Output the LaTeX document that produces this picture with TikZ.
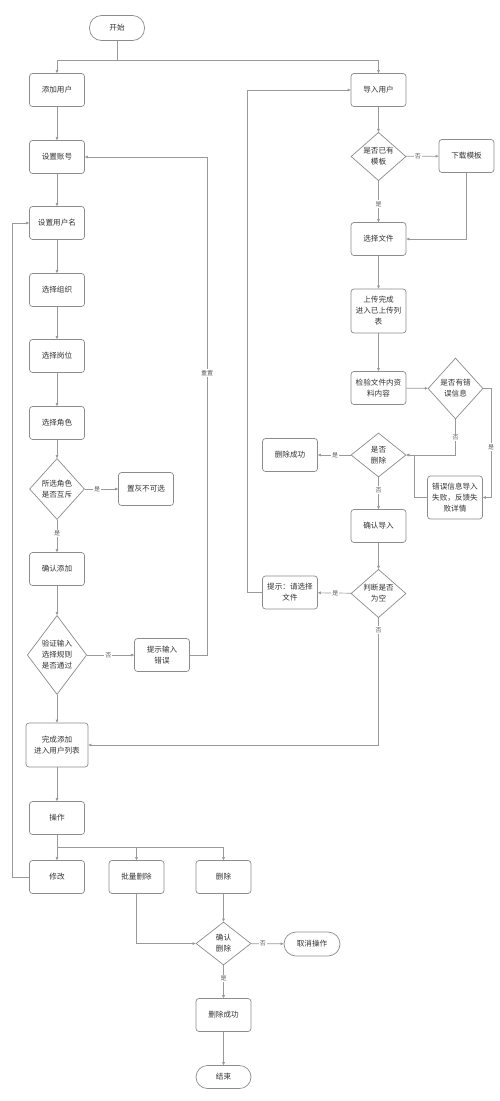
\documentclass[tikz,border=0pt]{standalone}
\usepackage{fontspec}
\setmainfont{Noto Sans CJK SC}
\usetikzlibrary{shapes.geometric,arrows.meta,calc}
\definecolor{ln}{HTML}{9A9A9A}
\definecolor{bd}{HTML}{8C8C8C}
\definecolor{tx}{HTML}{333333}
\tikzset{
  x=1pt,y=-1pt,
  every node/.style={text=tx},
  box/.style={draw=bd,line width=0.7pt,rectangle,rounded corners=3pt,minimum width=55pt,minimum height=33pt,inner sep=1pt,align=center,font=\fontsize{7.6}{11}\selectfont},
  term/.style={box,rounded corners=12pt,minimum height=25pt},
  dia/.style={draw=bd,line width=0.7pt,diamond,inner sep=0pt,minimum width=55pt,align=center,font=\fontsize{7.6}{11}\selectfont},
  arr/.style={draw=ln,line width=0.7pt,-{Triangle[length=3pt,width=2.6pt]}},
  ln/.style={draw=ln,line width=0.7pt},
  lbl/.style={fill=white,inner sep=1pt,font=\fontsize{6}{7}\selectfont,text=tx!80},
}
\begin{document}
\begin{tikzpicture}
\useasboundingbox (0,0) rectangle (500,1101);
\fill[white] (0,0) rectangle (500,1101);
% left column
\node[term] (start) at (117,28) {开始};
\node[box] (add) at (57,90) {添加用户};
\node[box] (acct) at (57,157) {设置账号};
\node[box] (uname) at (57,223) {设置用户名};
\node[box] (org) at (57,290) {选择组织};
\node[box] (post) at (57,356) {选择岗位};
\node[box] (role) at (57,423) {选择角色};
\node[dia,minimum height=61pt] (d1) at (57,489) {所选角色\\是否互斥};
\node[box] (gray) at (146,489) {置灰不可选};
\node[box] (confirm) at (57,569) {确认添加};
\node[dia,minimum height=79pt] (d2) at (57,655) {验证输入\\选择规则\\是否通过};
\node[box] (err) at (162,655) {提示输入\\错误};
\node[box,minimum width=62pt,minimum height=44pt] (done) at (57,745) {完成添加\\进入用户列表};
\node[box] (op) at (57,818) {操作};
\node[box] (mod) at (57,877) {修改};
\node[box] (batch) at (136.5,877) {批量删除};
\node[box] (del) at (223.5,877) {删除};
\node[dia,minimum height=43pt] (d3) at (223.5,943.5) {确认\\删除};
\node[term,minimum width=56pt,minimum height=24pt] (cancel) at (312,944) {取消操作};
\node[box] (delok) at (223.5,1015) {删除成功};
\node[term,minimum height=23pt,rounded corners=11.5pt] (end) at (223.5,1077) {结束};
% right column
\node[box] (imp) at (378.5,90) {导入用户};
\node[dia,minimum height=43pt] (r1) at (378.5,156.5) {是否已有\\模板};
\node[box] (dl) at (466.5,156) {下载模板};
\node[box] (file) at (378.5,239) {选择文件};
\node[box,minimum height=44pt] (up) at (378.5,311) {上传完成\\进入已上传列\\表};
\node[box] (chk) at (378.5,388) {检验文件内资\\料内容};
\node[dia,minimum height=61pt] (r2) at (455.5,388.5) {是否有错\\误信息};
\node[dia,minimum height=44pt] (r3) at (378.5,455) {是否\\删除};
\node[box] (delok2) at (290,455) {删除成功};
\node[box,minimum height=43pt] (errinfo) at (455,497.5) {错误信息导入\\失败，反馈失\\败详情};
\node[box] (cimp) at (378.5,526) {确认导入};
\node[dia,minimum height=43pt] (r4) at (378.5,593.5) {判断是否\\为空};
\node[box] (tip) at (290,592.5) {提示：请选择\\文件};
% junction coordinates
\coordinate (j0) at (117,60);
\coordinate (j1) at (57,847);
\coordinate (cr) at (207,655);
\coordinate (cl) at (12,877);
\coordinate (c2) at (491,388.5);
\coordinate (m1) at (414,455);
\coordinate (cx) at (247,592.5);
% connectors left
\draw[ln] (start.south) -- (j0);
\draw[arr] (j0) -| (add.north);
\draw[arr] (j0) -| (imp.north);
\draw[arr] (add) -- (acct);
\draw[arr] (acct) -- (uname);
\draw[arr] (uname) -- (org);
\draw[arr] (org) -- (post);
\draw[arr] (post) -- (role);
\draw[arr] (role) -- (d1);
\draw[arr] (d1) -- node[lbl,pos=0.37] {是} (gray);
\draw[arr] (d1) -- node[lbl,pos=0.42] {是} (confirm);
\draw[arr] (confirm) -- (d2);
\draw[arr] (d2) -- node[lbl,pos=0.45] {否} (err);
\draw[arr] (d2) -- (done);
\draw[arr] (err.east) -- (cr) |- (acct.east);
\node[lbl] (lreset) at (207,373) {重置};
\draw[arr] (done) -- (op);
\draw[ln] (op.south) -- (j1);
\draw[arr] (j1) -- (mod.north);
\draw[arr] (j1) -| (batch.north);
\draw[arr] (j1) -| (del.north);
\draw[arr] (mod.west) -- (cl) |- (uname.west);
\draw[arr] (batch.south) |- (d3.west);
\draw[arr] (del) -- (d3);
\draw[arr] (d3) -- node[lbl,pos=0.36] {否} (cancel);
\draw[arr] (d3) -- node[lbl,pos=0.4] {是} (delok);
\draw[arr] (delok) -- (end);
% connectors right
\draw[arr] (imp) -- (r1);
\draw[arr] (r1) -- node[lbl,pos=0.36] {否} (dl);
\draw[arr] (r1) -- node[lbl,pos=0.56] {是} (file);
\draw[arr] (dl.south) |- (file.east);
\draw[arr] (file) -- (up);
\draw[arr] (up) -- (chk);
\draw[arr] (chk) -- (r2);
\draw[arr] (r2.south) |- node[lbl,pos=0.25] {否} (r3.east);
\draw[arr] (r2.east) -- (c2) |- (errinfo.east);
\node[lbl] (lyes2) at (491,447) {是};
\draw[arr] (errinfo.west) -| (m1) -- (r3.east);
\draw[arr] (r3) -- node[lbl,pos=0.47] {是} (delok2);
\draw[arr] (r3) -- node[lbl,pos=0.4] {否} (cimp);
\draw[arr] (cimp) -- (r4);
\draw[arr] (r4) -- node[lbl,pos=0.47] {是} (tip);
\draw[arr] (tip.west) -- (cx) |- (imp.west);
\draw[arr] (r4.south) |- (done.east);
\node[lbl] (lno4) at (378.5,630) {否};
\end{tikzpicture}
\end{document}
